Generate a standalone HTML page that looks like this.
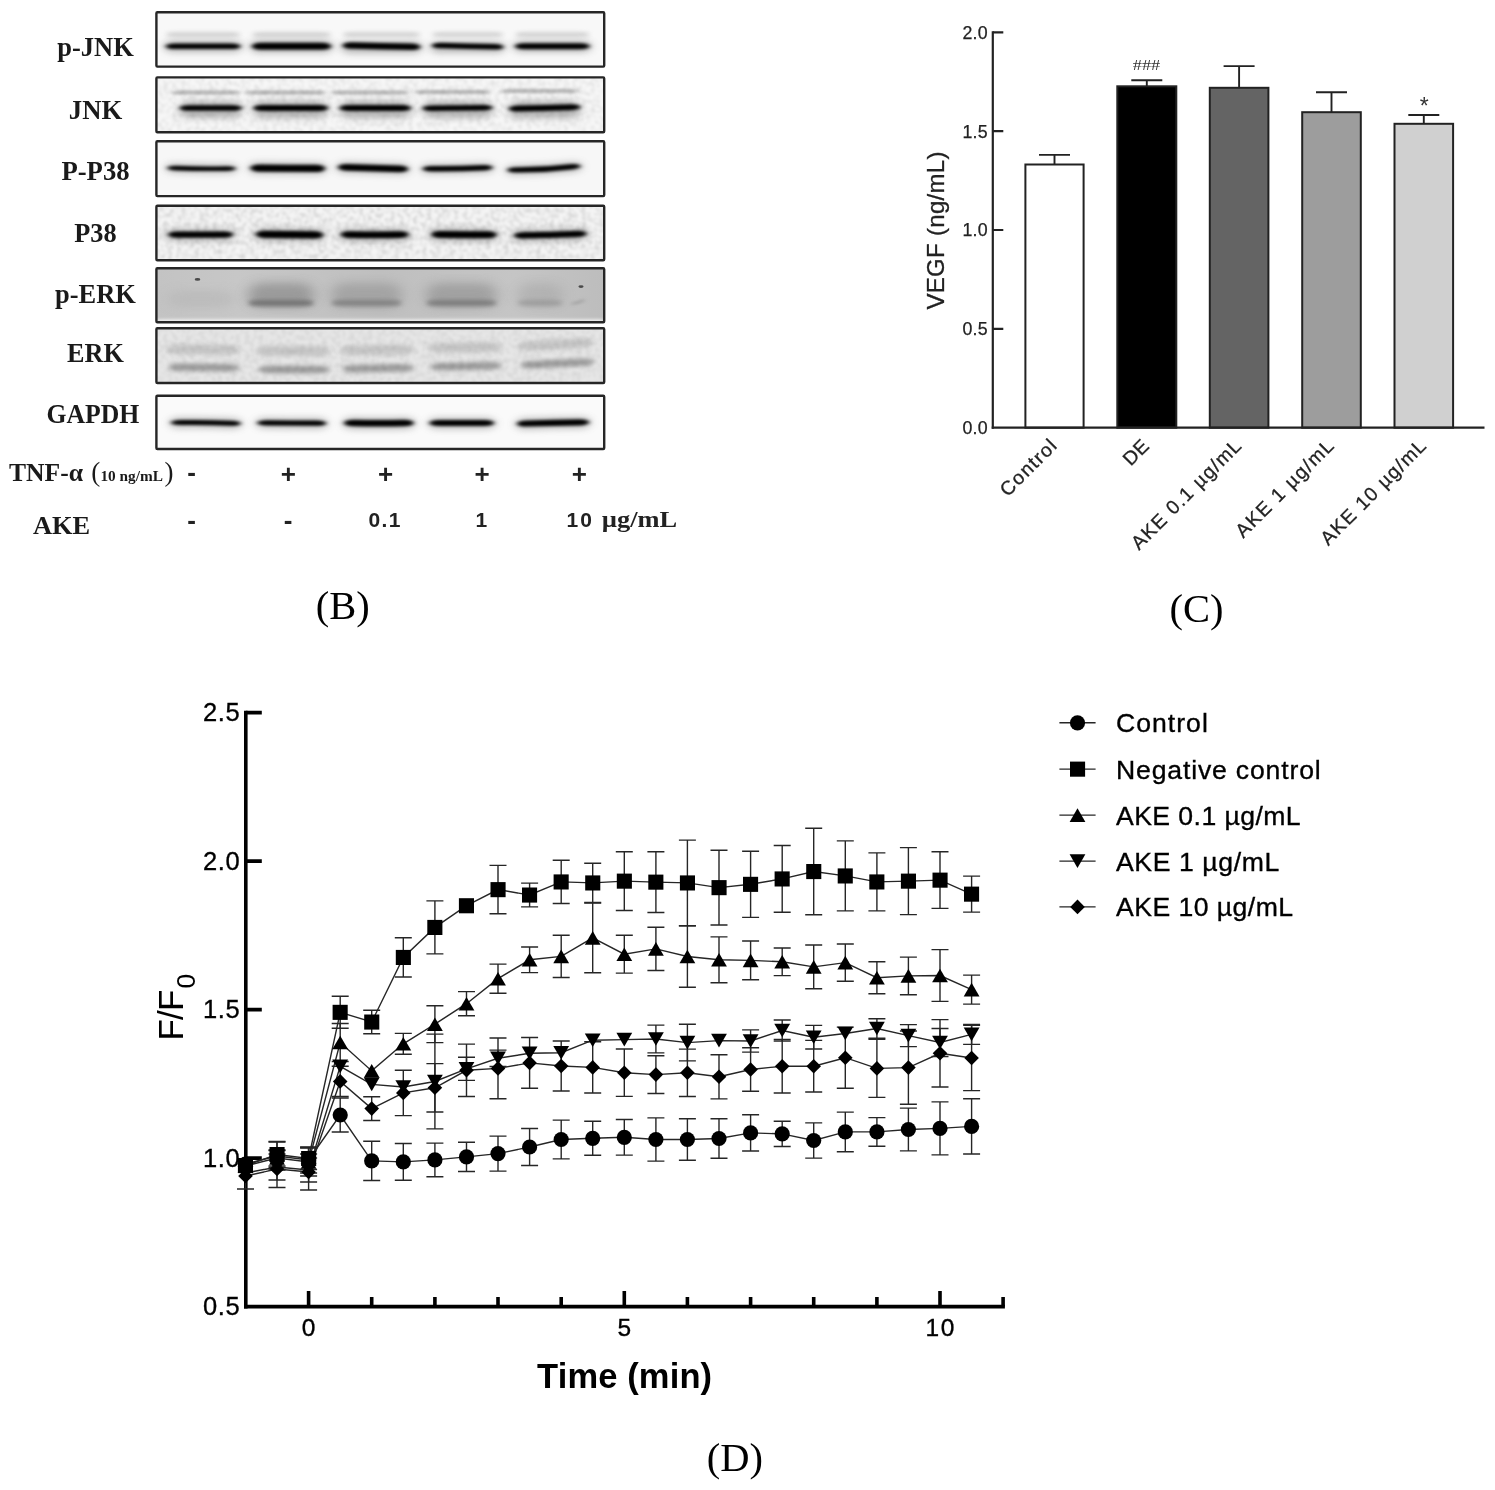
<!DOCTYPE html>
<html lang="en">
<head>
<meta charset="utf-8">
<title>Figure panels B, C, D</title>
<style>
html,body{margin:0;padding:0;background:#fff;}
body{width:1495px;height:1490px;overflow:hidden;}
svg{display:block;}
#fig{filter:blur(0.65px);}
</style>
</head>
<body>
<svg width="1495" height="1490" viewBox="0 0 1495 1490">
<rect width="1495" height="1490" fill="#fff"/>
<g id="fig">
<g id="panelD">
<path d="M245.8 710.8000000000001V1308.3999999999999" stroke="#000" stroke-width="3.6" fill="none"/>
<path d="M244.0 1306.6H1004.9" stroke="#000" stroke-width="3.6" fill="none"/>
<path d="M245.8 1158.1h16M245.8 1009.6h16M245.8 861.1h16M245.8 712.6h16" stroke="#000" stroke-width="3.6" fill="none"/>
<path d="M308.6 1306.6v-15.5M371.7 1306.6v-9.5M434.9 1306.6v-9.5M498.0 1306.6v-9.5M561.2 1306.6v-9.5M624.3 1306.6v-15.5M687.4 1306.6v-9.5M750.6 1306.6v-9.5M813.7 1306.6v-9.5M876.9 1306.6v-9.5M940.0 1306.6v-15.5M1003.1 1306.6v-9.5" stroke="#000" stroke-width="3.6" fill="none"/>
<text x="239.6" y="1315.3" text-anchor="end" font-family='"Liberation Sans", Arial, sans-serif' font-size="25.5" stroke="#000" stroke-width="0.35" textLength="36.5" lengthAdjust="spacing">0.5</text>
<text x="239.6" y="1166.8" text-anchor="end" font-family='"Liberation Sans", Arial, sans-serif' font-size="25.5" stroke="#000" stroke-width="0.35" textLength="36.5" lengthAdjust="spacing">1.0</text>
<text x="239.6" y="1018.3" text-anchor="end" font-family='"Liberation Sans", Arial, sans-serif' font-size="25.5" stroke="#000" stroke-width="0.35" textLength="36.5" lengthAdjust="spacing">1.5</text>
<text x="239.6" y="869.8" text-anchor="end" font-family='"Liberation Sans", Arial, sans-serif' font-size="25.5" stroke="#000" stroke-width="0.35" textLength="36.5" lengthAdjust="spacing">2.0</text>
<text x="239.6" y="721.3" text-anchor="end" font-family='"Liberation Sans", Arial, sans-serif' font-size="25.5" stroke="#000" stroke-width="0.35" textLength="36.5" lengthAdjust="spacing">2.5</text>
<text x="308.6" y="1336.2" text-anchor="middle" font-family='"Liberation Sans", Arial, sans-serif' font-size="24.5" stroke="#000" stroke-width="0.35" textLength="13.6" lengthAdjust="spacing">0</text>
<text x="624.3" y="1336.2" text-anchor="middle" font-family='"Liberation Sans", Arial, sans-serif' font-size="24.5" stroke="#000" stroke-width="0.35" textLength="13.6" lengthAdjust="spacing">5</text>
<text x="940.0" y="1336.2" text-anchor="middle" font-family='"Liberation Sans", Arial, sans-serif' font-size="24.5" stroke="#000" stroke-width="0.35" textLength="29" lengthAdjust="spacing">10</text>
<text x="624.6" y="1388.3" text-anchor="middle" font-family='"Liberation Sans", Arial, sans-serif' font-weight="bold" font-size="34.5" textLength="175" lengthAdjust="spacing">Time (min)</text>
<text transform="translate(183.4 1040.6) rotate(-90)" font-family='"Liberation Sans", Arial, sans-serif' font-size="35" textLength="51" lengthAdjust="spacing">F/F</text>
<text transform="translate(195.4 988.6) rotate(-90)" font-family='"Liberation Sans", Arial, sans-serif' font-size="26.5">0</text>
<g fill="#000">
<path d="M277.0 1142.0V1170.0M268.5 1142.0h17.0M268.5 1170.0h17.0M308.6 1147.0V1173.0M300.1 1147.0h17.0M300.1 1173.0h17.0M340.2 1098.0V1132.0M331.7 1098.0h17.0M331.7 1132.0h17.0M371.7 1141.3V1180.5M363.2 1141.3h17.0M363.2 1180.5h17.0M403.3 1143.5V1180.3M394.8 1143.5h17.0M394.8 1180.3h17.0M434.9 1143.1V1176.7M426.4 1143.1h17.0M426.4 1176.7h17.0M466.5 1142.3V1171.5M458.0 1142.3h17.0M458.0 1171.5h17.0M498.0 1136.1V1171.1M489.5 1136.1h17.0M489.5 1171.1h17.0M529.6 1128.5V1165.5M521.1 1128.5h17.0M521.1 1165.5h17.0M561.2 1120.1V1158.9M552.7 1120.1h17.0M552.7 1158.9h17.0M592.7 1121.3V1155.3M584.2 1121.3h17.0M584.2 1155.3h17.0M624.3 1119.5V1155.1M615.8 1119.5h17.0M615.8 1155.1h17.0M655.9 1117.9V1161.1M647.4 1117.9h17.0M647.4 1161.1h17.0M687.4 1118.7V1160.3M678.9 1118.7h17.0M678.9 1160.3h17.0M719.0 1118.7V1158.3M710.5 1118.7h17.0M710.5 1158.3h17.0M750.6 1114.8V1151.0M742.1 1114.8h17.0M742.1 1151.0h17.0M782.2 1121.3V1146.5M773.7 1121.3h17.0M773.7 1146.5h17.0M813.7 1122.9V1158.1M805.2 1122.9h17.0M805.2 1158.1h17.0M845.3 1112.1V1151.7M836.8 1112.1h17.0M836.8 1151.7h17.0M876.9 1117.6V1146.2M868.4 1117.6h17.0M868.4 1146.2h17.0M908.4 1108.1V1150.9M899.9 1108.1h17.0M899.9 1150.9h17.0M940.0 1101.9V1154.9M931.5 1101.9h17.0M931.5 1154.9h17.0M971.6 1098.8V1154.0M963.1 1098.8h17.0M963.1 1154.0h17.0" fill="none" stroke="#262626" stroke-width="1.4"/>
<polyline points="245.5,1164.0 277.0,1156.0 308.6,1160.0 340.2,1115.0 371.7,1160.9 403.3,1161.9 434.9,1159.9 466.5,1156.9 498.0,1153.6 529.6,1147.0 561.2,1139.5 592.7,1138.3 624.3,1137.3 655.9,1139.5 687.4,1139.5 719.0,1138.5 750.6,1132.9 782.2,1133.9 813.7,1140.5 845.3,1131.9 876.9,1131.9 908.4,1129.5 940.0,1128.4 971.6,1126.4" fill="none" stroke="#262626" stroke-width="1.4"/>
<path d="M277.0 1141.5V1167.5M268.5 1141.5h17.0M268.5 1167.5h17.0M308.6 1147.5V1169.5M300.1 1147.5h17.0M300.1 1169.5h17.0M340.2 996.3V1028.3M331.7 996.3h17.0M331.7 1028.3h17.0M371.7 1010.2V1033.8M363.2 1010.2h17.0M363.2 1033.8h17.0M403.3 937.8V977.0M394.8 937.8h17.0M394.8 977.0h17.0M434.9 900.9V953.9M426.4 900.9h17.0M426.4 953.9h17.0M498.0 865.4V913.8M489.5 865.4h17.0M489.5 913.8h17.0M529.6 883.1V906.9M521.1 883.1h17.0M521.1 906.9h17.0M561.2 860.3V903.5M552.7 860.3h17.0M552.7 903.5h17.0M592.7 863.3V902.5M584.2 863.3h17.0M584.2 902.5h17.0M624.3 851.7V910.5M615.8 851.7h17.0M615.8 910.5h17.0M655.9 851.7V912.5M647.4 851.7h17.0M647.4 912.5h17.0M687.4 840.1V925.7M678.9 840.1h17.0M678.9 925.7h17.0M719.0 850.2V925.0M710.5 850.2h17.0M710.5 925.0h17.0M750.6 851.2V917.4M742.1 851.2h17.0M742.1 917.4h17.0M782.2 845.5V912.3M773.7 845.5h17.0M773.7 912.3h17.0M813.7 828.2V914.8M805.2 828.2h17.0M805.2 914.8h17.0M845.3 840.9V910.9M836.8 840.9h17.0M836.8 910.9h17.0M876.9 852.9V910.9M868.4 852.9h17.0M868.4 910.9h17.0M908.4 847.6V914.6M899.9 847.6h17.0M899.9 914.6h17.0M940.0 851.8V908.4M931.5 851.8h17.0M931.5 908.4h17.0M971.6 876.1V912.1M963.1 876.1h17.0M963.1 912.1h17.0" fill="none" stroke="#262626" stroke-width="1.4"/>
<polyline points="245.5,1165.5 277.0,1154.5 308.6,1158.5 340.2,1012.3 371.7,1022.0 403.3,957.4 434.9,927.4 466.5,905.7 498.0,889.6 529.6,895.0 561.2,881.9 592.7,882.9 624.3,881.1 655.9,882.1 687.4,882.9 719.0,887.6 750.6,884.3 782.2,878.9 813.7,871.5 845.3,875.9 876.9,881.9 908.4,881.1 940.0,880.1 971.6,894.1" fill="none" stroke="#262626" stroke-width="1.4"/>
<path d="M277.0 1150.0V1166.0M268.5 1150.0h17.0M268.5 1166.0h17.0M308.6 1148.0V1176.0M300.1 1148.0h17.0M300.1 1176.0h17.0M340.2 1023.5V1061.5M331.7 1023.5h17.0M331.7 1061.5h17.0M403.3 1033.4V1054.2M394.8 1033.4h17.0M394.8 1054.2h17.0M434.9 1005.8V1042.6M426.4 1005.8h17.0M426.4 1042.6h17.0M466.5 991.6V1015.8M458.0 991.6h17.0M458.0 1015.8h17.0M498.0 964.1V993.3M489.5 964.1h17.0M489.5 993.3h17.0M529.6 947.0V972.6M521.1 947.0h17.0M521.1 972.6h17.0M561.2 935.3V977.5M552.7 935.3h17.0M552.7 977.5h17.0M592.7 903.1V972.7M584.2 903.1h17.0M584.2 972.7h17.0M624.3 935.3V973.1M615.8 935.3h17.0M615.8 973.1h17.0M655.9 927.3V970.5M647.4 927.3h17.0M647.4 970.5h17.0M687.4 925.8V987.2M678.9 925.8h17.0M678.9 987.2h17.0M719.0 936.9V982.7M710.5 936.9h17.0M710.5 982.7h17.0M750.6 941.0V979.8M742.1 941.0h17.0M742.1 979.8h17.0M782.2 948.0V975.6M773.7 948.0h17.0M773.7 975.6h17.0M813.7 945.0V988.8M805.2 945.0h17.0M805.2 988.8h17.0M845.3 944.0V981.2M836.8 944.0h17.0M836.8 981.2h17.0M876.9 961.7V993.7M868.4 961.7h17.0M868.4 993.7h17.0M908.4 957.1V994.7M899.9 957.1h17.0M899.9 994.7h17.0M940.0 949.6V1001.4M931.5 949.6h17.0M931.5 1001.4h17.0M971.6 975.1V1004.1M963.1 975.1h17.0M963.1 1004.1h17.0" fill="none" stroke="#262626" stroke-width="1.4"/>
<polyline points="245.5,1166.0 277.0,1158.0 308.6,1162.0 340.2,1042.5 371.7,1070.9 403.3,1043.8 434.9,1024.2 466.5,1003.7 498.0,978.7 529.6,959.8 561.2,956.4 592.7,937.9 624.3,954.2 655.9,948.9 687.4,956.5 719.0,959.8 750.6,960.4 782.2,961.8 813.7,966.9 845.3,962.6 876.9,977.7 908.4,975.9 940.0,975.5 971.6,989.6" fill="none" stroke="#262626" stroke-width="1.4"/>
<path d="M277.0 1154.0V1180.0M268.5 1154.0h17.0M268.5 1180.0h17.0M308.6 1158.0V1182.0M300.1 1158.0h17.0M300.1 1182.0h17.0M434.9 1034.1V1128.9M426.4 1034.1h17.0M426.4 1128.9h17.0M466.5 1057.2V1080.4M458.0 1057.2h17.0M458.0 1080.4h17.0M498.0 1050.1V1066.5M489.5 1050.1h17.0M489.5 1066.5h17.0M655.9 1025.1V1052.9M647.4 1025.1h17.0M647.4 1052.9h17.0M687.4 1024.3V1060.9M678.9 1024.3h17.0M678.9 1060.9h17.0M750.6 1029.9V1052.1M742.1 1029.9h17.0M742.1 1052.1h17.0M782.2 1020.0V1041.0M773.7 1020.0h17.0M773.7 1041.0h17.0M813.7 1025.4V1049.0M805.2 1025.4h17.0M805.2 1049.0h17.0M876.9 1018.8V1038.2M868.4 1018.8h17.0M868.4 1038.2h17.0M908.4 1024.6V1046.6M899.9 1024.6h17.0M899.9 1046.6h17.0M940.0 1028.5V1056.5M931.5 1028.5h17.0M931.5 1056.5h17.0M971.6 1024.4V1044.4M963.1 1024.4h17.0M963.1 1044.4h17.0" fill="none" stroke="#262626" stroke-width="1.4"/>
<polyline points="245.5,1173.0 277.0,1167.0 308.6,1170.0 340.2,1066.4 371.7,1084.4 403.3,1087.0 434.9,1081.5 466.5,1068.8 498.0,1058.3 529.6,1053.3 561.2,1052.7 592.7,1040.2 624.3,1039.6 655.9,1039.0 687.4,1042.6 719.0,1040.6 750.6,1041.0 782.2,1030.5 813.7,1037.2 845.3,1033.5 876.9,1028.5 908.4,1035.6 940.0,1042.5 971.6,1034.4" fill="none" stroke="#262626" stroke-width="1.4"/>
<path d="M245.5 1163.0V1189.0M237.0 1163.0h17.0M237.0 1189.0h17.0M277.0 1150.5V1187.5M268.5 1150.5h17.0M268.5 1187.5h17.0M308.6 1154.0V1190.0M300.1 1154.0h17.0M300.1 1190.0h17.0M340.2 1066.3V1096.5M331.7 1066.3h17.0M331.7 1096.5h17.0M371.7 1096.7V1120.5M363.2 1096.7h17.0M363.2 1120.5h17.0M403.3 1070.2V1115.6M394.8 1070.2h17.0M394.8 1115.6h17.0M434.9 1063.6V1112.0M426.4 1063.6h17.0M426.4 1112.0h17.0M466.5 1044.1V1096.5M458.0 1044.1h17.0M458.0 1096.5h17.0M498.0 1038.0V1098.8M489.5 1038.0h17.0M489.5 1098.8h17.0M529.6 1037.5V1088.3M521.1 1037.5h17.0M521.1 1088.3h17.0M561.2 1041.0V1091.0M552.7 1041.0h17.0M552.7 1091.0h17.0M592.7 1041.8V1093.0M584.2 1041.8h17.0M584.2 1093.0h17.0M624.3 1049.0V1096.4M615.8 1049.0h17.0M615.8 1096.4h17.0M655.9 1055.7V1093.5M647.4 1055.7h17.0M647.4 1093.5h17.0M687.4 1049.1V1096.5M678.9 1049.1h17.0M678.9 1096.5h17.0M719.0 1054.7V1098.9M710.5 1054.7h17.0M710.5 1098.9h17.0M750.6 1047.7V1091.3M742.1 1047.7h17.0M742.1 1091.3h17.0M782.2 1039.4V1093.0M773.7 1039.4h17.0M773.7 1093.0h17.0M813.7 1040.4V1092.0M805.2 1040.4h17.0M805.2 1092.0h17.0M845.3 1027.1V1088.3M836.8 1027.1h17.0M836.8 1088.3h17.0M876.9 1039.4V1097.4M868.4 1039.4h17.0M868.4 1097.4h17.0M908.4 1031.0V1104.2M899.9 1031.0h17.0M899.9 1104.2h17.0M940.0 1019.6V1087.0M931.5 1019.6h17.0M931.5 1087.0h17.0M971.6 1025.4V1090.6M963.1 1025.4h17.0M963.1 1090.6h17.0" fill="none" stroke="#262626" stroke-width="1.4"/>
<polyline points="245.5,1176.0 277.0,1169.0 308.6,1172.0 340.2,1081.4 371.7,1108.6 403.3,1092.9 434.9,1087.8 466.5,1070.3 498.0,1068.4 529.6,1062.9 561.2,1066.0 592.7,1067.4 624.3,1072.7 655.9,1074.6 687.4,1072.8 719.0,1076.8 750.6,1069.5 782.2,1066.2 813.7,1066.2 845.3,1057.7 876.9,1068.4 908.4,1067.6 940.0,1053.3 971.6,1058.0" fill="none" stroke="#262626" stroke-width="1.4"/>
<circle cx="245.5" cy="1164.0" r="7.6"/><circle cx="277.0" cy="1156.0" r="7.6"/><circle cx="308.6" cy="1160.0" r="7.6"/><circle cx="340.2" cy="1115.0" r="7.6"/><circle cx="371.7" cy="1160.9" r="7.6"/><circle cx="403.3" cy="1161.9" r="7.6"/><circle cx="434.9" cy="1159.9" r="7.6"/><circle cx="466.5" cy="1156.9" r="7.6"/><circle cx="498.0" cy="1153.6" r="7.6"/><circle cx="529.6" cy="1147.0" r="7.6"/><circle cx="561.2" cy="1139.5" r="7.6"/><circle cx="592.7" cy="1138.3" r="7.6"/><circle cx="624.3" cy="1137.3" r="7.6"/><circle cx="655.9" cy="1139.5" r="7.6"/><circle cx="687.4" cy="1139.5" r="7.6"/><circle cx="719.0" cy="1138.5" r="7.6"/><circle cx="750.6" cy="1132.9" r="7.6"/><circle cx="782.2" cy="1133.9" r="7.6"/><circle cx="813.7" cy="1140.5" r="7.6"/><circle cx="845.3" cy="1131.9" r="7.6"/><circle cx="876.9" cy="1131.9" r="7.6"/><circle cx="908.4" cy="1129.5" r="7.6"/><circle cx="940.0" cy="1128.4" r="7.6"/><circle cx="971.6" cy="1126.4" r="7.6"/>
<rect x="237.9" y="1158.0" width="15.1" height="15.1"/><rect x="269.5" y="1147.0" width="15.1" height="15.1"/><rect x="301.1" y="1151.0" width="15.1" height="15.1"/><rect x="332.6" y="1004.8" width="15.1" height="15.1"/><rect x="364.2" y="1014.5" width="15.1" height="15.1"/><rect x="395.8" y="949.9" width="15.1" height="15.1"/><rect x="427.3" y="919.9" width="15.1" height="15.1"/><rect x="458.9" y="898.2" width="15.1" height="15.1"/><rect x="490.5" y="882.1" width="15.1" height="15.1"/><rect x="522.0" y="887.5" width="15.1" height="15.1"/><rect x="553.6" y="874.4" width="15.1" height="15.1"/><rect x="585.2" y="875.4" width="15.1" height="15.1"/><rect x="616.8" y="873.6" width="15.1" height="15.1"/><rect x="648.3" y="874.6" width="15.1" height="15.1"/><rect x="679.9" y="875.4" width="15.1" height="15.1"/><rect x="711.5" y="880.1" width="15.1" height="15.1"/><rect x="743.0" y="876.8" width="15.1" height="15.1"/><rect x="774.6" y="871.4" width="15.1" height="15.1"/><rect x="806.2" y="864.0" width="15.1" height="15.1"/><rect x="837.7" y="868.4" width="15.1" height="15.1"/><rect x="869.3" y="874.4" width="15.1" height="15.1"/><rect x="900.9" y="873.6" width="15.1" height="15.1"/><rect x="932.5" y="872.6" width="15.1" height="15.1"/><rect x="964.0" y="886.6" width="15.1" height="15.1"/>
<path d="M237.6 1172.8L253.4 1172.8L245.5 1159.2Z"/><path d="M269.1 1164.8L284.9 1164.8L277.0 1151.2Z"/><path d="M300.7 1168.8L316.5 1168.8L308.6 1155.2Z"/><path d="M332.3 1049.3L348.1 1049.3L340.2 1035.7Z"/><path d="M363.8 1077.7L379.6 1077.7L371.7 1064.1Z"/><path d="M395.4 1050.6L411.2 1050.6L403.3 1037.0Z"/><path d="M427.0 1031.0L442.8 1031.0L434.9 1017.4Z"/><path d="M458.6 1010.5L474.4 1010.5L466.5 996.9Z"/><path d="M490.1 985.5L505.9 985.5L498.0 971.9Z"/><path d="M521.7 966.6L537.5 966.6L529.6 953.0Z"/><path d="M553.3 963.2L569.1 963.2L561.2 949.6Z"/><path d="M584.8 944.7L600.6 944.7L592.7 931.1Z"/><path d="M616.4 961.0L632.2 961.0L624.3 947.4Z"/><path d="M648.0 955.7L663.8 955.7L655.9 942.1Z"/><path d="M679.5 963.3L695.3 963.3L687.4 949.7Z"/><path d="M711.1 966.6L726.9 966.6L719.0 953.0Z"/><path d="M742.7 967.2L758.5 967.2L750.6 953.6Z"/><path d="M774.3 968.6L790.1 968.6L782.2 955.0Z"/><path d="M805.8 973.7L821.6 973.7L813.7 960.1Z"/><path d="M837.4 969.4L853.2 969.4L845.3 955.8Z"/><path d="M869.0 984.5L884.8 984.5L876.9 970.9Z"/><path d="M900.5 982.7L916.3 982.7L908.4 969.1Z"/><path d="M932.1 982.3L947.9 982.3L940.0 968.7Z"/><path d="M963.7 996.4L979.5 996.4L971.6 982.8Z"/>
<path d="M237.6 1166.2L253.4 1166.2L245.5 1179.8Z"/><path d="M269.1 1160.2L284.9 1160.2L277.0 1173.8Z"/><path d="M300.7 1163.2L316.5 1163.2L308.6 1176.8Z"/><path d="M332.3 1059.6L348.1 1059.6L340.2 1073.2Z"/><path d="M363.8 1077.6L379.6 1077.6L371.7 1091.2Z"/><path d="M395.4 1080.2L411.2 1080.2L403.3 1093.8Z"/><path d="M427.0 1074.7L442.8 1074.7L434.9 1088.3Z"/><path d="M458.6 1062.0L474.4 1062.0L466.5 1075.6Z"/><path d="M490.1 1051.5L505.9 1051.5L498.0 1065.1Z"/><path d="M521.7 1046.5L537.5 1046.5L529.6 1060.1Z"/><path d="M553.3 1045.9L569.1 1045.9L561.2 1059.5Z"/><path d="M584.8 1033.4L600.6 1033.4L592.7 1047.0Z"/><path d="M616.4 1032.8L632.2 1032.8L624.3 1046.4Z"/><path d="M648.0 1032.2L663.8 1032.2L655.9 1045.8Z"/><path d="M679.5 1035.8L695.3 1035.8L687.4 1049.4Z"/><path d="M711.1 1033.8L726.9 1033.8L719.0 1047.4Z"/><path d="M742.7 1034.2L758.5 1034.2L750.6 1047.8Z"/><path d="M774.3 1023.7L790.1 1023.7L782.2 1037.3Z"/><path d="M805.8 1030.4L821.6 1030.4L813.7 1044.0Z"/><path d="M837.4 1026.7L853.2 1026.7L845.3 1040.3Z"/><path d="M869.0 1021.7L884.8 1021.7L876.9 1035.3Z"/><path d="M900.5 1028.8L916.3 1028.8L908.4 1042.4Z"/><path d="M932.1 1035.7L947.9 1035.7L940.0 1049.3Z"/><path d="M963.7 1027.6L979.5 1027.6L971.6 1041.2Z"/>
<path d="M238.2 1176.0L245.5 1168.7L252.8 1176.0L245.5 1183.3Z"/><path d="M269.7 1169.0L277.0 1161.7L284.3 1169.0L277.0 1176.3Z"/><path d="M301.3 1172.0L308.6 1164.7L315.9 1172.0L308.6 1179.3Z"/><path d="M332.9 1081.4L340.2 1074.1L347.5 1081.4L340.2 1088.7Z"/><path d="M364.4 1108.6L371.7 1101.3L379.0 1108.6L371.7 1115.9Z"/><path d="M396.0 1092.9L403.3 1085.6L410.6 1092.9L403.3 1100.2Z"/><path d="M427.6 1087.8L434.9 1080.5L442.2 1087.8L434.9 1095.1Z"/><path d="M459.2 1070.3L466.5 1063.0L473.8 1070.3L466.5 1077.6Z"/><path d="M490.7 1068.4L498.0 1061.1L505.3 1068.4L498.0 1075.7Z"/><path d="M522.3 1062.9L529.6 1055.6L536.9 1062.9L529.6 1070.2Z"/><path d="M553.9 1066.0L561.2 1058.7L568.5 1066.0L561.2 1073.3Z"/><path d="M585.4 1067.4L592.7 1060.1L600.0 1067.4L592.7 1074.7Z"/><path d="M617.0 1072.7L624.3 1065.4L631.6 1072.7L624.3 1080.0Z"/><path d="M648.6 1074.6L655.9 1067.3L663.2 1074.6L655.9 1081.9Z"/><path d="M680.1 1072.8L687.4 1065.5L694.7 1072.8L687.4 1080.1Z"/><path d="M711.7 1076.8L719.0 1069.5L726.3 1076.8L719.0 1084.1Z"/><path d="M743.3 1069.5L750.6 1062.2L757.9 1069.5L750.6 1076.8Z"/><path d="M774.9 1066.2L782.2 1058.9L789.5 1066.2L782.2 1073.5Z"/><path d="M806.4 1066.2L813.7 1058.9L821.0 1066.2L813.7 1073.5Z"/><path d="M838.0 1057.7L845.3 1050.4L852.6 1057.7L845.3 1065.0Z"/><path d="M869.6 1068.4L876.9 1061.1L884.2 1068.4L876.9 1075.7Z"/><path d="M901.1 1067.6L908.4 1060.3L915.7 1067.6L908.4 1074.9Z"/><path d="M932.7 1053.3L940.0 1046.0L947.3 1053.3L940.0 1060.6Z"/><path d="M964.3 1058.0L971.6 1050.7L978.9 1058.0L971.6 1065.3Z"/>
</g>
<g fill="#000">
<path d="M1059.4 722.8H1095.6" stroke="#262626" stroke-width="1.4" fill="none"/>
<circle cx="1077.5" cy="722.8" r="7.6"/>
<text x="1116" y="732.3" font-family='"Liberation Sans", Arial, sans-serif' font-size="26.6" stroke="#000" stroke-width="0.35" textLength="91.8" lengthAdjust="spacing">Control</text>
<path d="M1059.4 769.1H1095.6" stroke="#262626" stroke-width="1.4" fill="none"/>
<rect x="1070.0" y="761.6" width="15.1" height="15.1"/>
<text x="1116" y="778.6" font-family='"Liberation Sans", Arial, sans-serif' font-size="26.6" stroke="#000" stroke-width="0.35" textLength="204.7" lengthAdjust="spacing">Negative control</text>
<path d="M1059.4 815.1H1095.6" stroke="#262626" stroke-width="1.4" fill="none"/>
<path d="M1069.6 821.9L1085.4 821.9L1077.5 808.3Z"/>
<text x="1116" y="824.6" font-family='"Liberation Sans", Arial, sans-serif' font-size="26.6" stroke="#000" stroke-width="0.35" textLength="184.6" lengthAdjust="spacing">AKE 0.1 µg/mL</text>
<path d="M1059.4 861.1H1095.6" stroke="#262626" stroke-width="1.4" fill="none"/>
<path d="M1069.6 854.3L1085.4 854.3L1077.5 867.9Z"/>
<text x="1116" y="870.6" font-family='"Liberation Sans", Arial, sans-serif' font-size="26.6" stroke="#000" stroke-width="0.35" textLength="163.2" lengthAdjust="spacing">AKE 1 µg/mL</text>
<path d="M1059.4 906.9H1095.6" stroke="#262626" stroke-width="1.4" fill="none"/>
<path d="M1070.2 906.9L1077.5 899.6L1084.8 906.9L1077.5 914.2Z"/>
<text x="1116" y="916.4" font-family='"Liberation Sans", Arial, sans-serif' font-size="26.6" stroke="#000" stroke-width="0.35" textLength="177.1" lengthAdjust="spacing">AKE 10 µg/mL</text>
</g>
<text x="734.8" y="1470.6" text-anchor="middle" font-family='"Liberation Serif", "Times New Roman", serif' font-size="40.5">(D)</text>
</g>
<g id="panelC">
<path d="M992.8 31.2V428.8" stroke="#222" stroke-width="2.2" fill="none"/>
<path d="M992.8 328.9h10.5M992.8 230.0h10.5M992.8 131.2h10.5M992.8 32.3h10.5" stroke="#222" stroke-width="2.2" fill="none"/>
<path d="M1054.5 164.5V154.9M1039.0 154.9h31" stroke="#222" stroke-width="1.9" fill="none"/>
<rect x="1025.4" y="164.5" width="58.2" height="263.2" fill="#fff" stroke="#222" stroke-width="2"/>
<path d="M1146.8 86.3V80.2M1131.3 80.2h31" stroke="#222" stroke-width="1.9" fill="none"/>
<rect x="1117.3" y="86.3" width="59.0" height="341.4" fill="#000" stroke="#222" stroke-width="2"/>
<path d="M1239.1 87.8V66.1M1223.6 66.1h31" stroke="#222" stroke-width="1.9" fill="none"/>
<rect x="1209.8" y="87.8" width="58.6" height="339.9" fill="#646464" stroke="#222" stroke-width="2"/>
<path d="M1331.5 112.2V92.3M1316.0 92.3h31" stroke="#222" stroke-width="1.9" fill="none"/>
<rect x="1302.2" y="112.2" width="58.6" height="315.5" fill="#9d9d9d" stroke="#222" stroke-width="2"/>
<path d="M1423.8 123.8V115.0M1408.3 115.0h31" stroke="#222" stroke-width="1.9" fill="none"/>
<rect x="1394.5" y="123.8" width="58.6" height="303.9" fill="#d0d0d0" stroke="#222" stroke-width="2"/>
<path d="M991.6999999999999 427.7H1484.5" stroke="#222" stroke-width="2.2" fill="none"/>
<text x="987.6" y="434.1" text-anchor="end" fill="#222" stroke="#222" stroke-width="0.25" font-family='"Liberation Sans", Arial, sans-serif' font-size="17.8" textLength="25" lengthAdjust="spacing">0.0</text>
<text x="987.6" y="335.2" text-anchor="end" fill="#222" stroke="#222" stroke-width="0.25" font-family='"Liberation Sans", Arial, sans-serif' font-size="17.8" textLength="25" lengthAdjust="spacing">0.5</text>
<text x="987.6" y="236.4" text-anchor="end" fill="#222" stroke="#222" stroke-width="0.25" font-family='"Liberation Sans", Arial, sans-serif' font-size="17.8" textLength="25" lengthAdjust="spacing">1.0</text>
<text x="987.6" y="137.6" text-anchor="end" fill="#222" stroke="#222" stroke-width="0.25" font-family='"Liberation Sans", Arial, sans-serif' font-size="17.8" textLength="25" lengthAdjust="spacing">1.5</text>
<text x="987.6" y="38.7" text-anchor="end" fill="#222" stroke="#222" stroke-width="0.25" font-family='"Liberation Sans", Arial, sans-serif' font-size="17.8" textLength="25" lengthAdjust="spacing">2.0</text>
<text transform="translate(1057.9 447.2) rotate(-45)" text-anchor="end" fill="#222" stroke="#222" stroke-width="0.3" font-family='"Liberation Sans", Arial, sans-serif' font-size="19.5" textLength="71" lengthAdjust="spacing">Control</text>
<text transform="translate(1150.2 447.2) rotate(-45)" text-anchor="end" fill="#222" stroke="#222" stroke-width="0.3" font-family='"Liberation Sans", Arial, sans-serif' font-size="19.5" textLength="27.5" lengthAdjust="spacing">DE</text>
<text transform="translate(1242.5 447.2) rotate(-45)" text-anchor="end" fill="#222" stroke="#222" stroke-width="0.3" font-family='"Liberation Sans", Arial, sans-serif' font-size="19.5" textLength="146.5" lengthAdjust="spacing">AKE 0.1 µg/mL</text>
<text transform="translate(1334.9 447.2) rotate(-45)" text-anchor="end" fill="#222" stroke="#222" stroke-width="0.3" font-family='"Liberation Sans", Arial, sans-serif' font-size="19.5" textLength="129.5" lengthAdjust="spacing">AKE 1 µg/mL</text>
<text transform="translate(1427.2 447.2) rotate(-45)" text-anchor="end" fill="#222" stroke="#222" stroke-width="0.3" font-family='"Liberation Sans", Arial, sans-serif' font-size="19.5" textLength="140" lengthAdjust="spacing">AKE 10 µg/mL</text>
<text transform="translate(944.4 230.5) rotate(-90)" text-anchor="middle" fill="#222" stroke="#222" stroke-width="0.3" font-family='"Liberation Sans", Arial, sans-serif' font-size="24" textLength="158" lengthAdjust="spacing">VEGF (ng/mL)</text>
<text x="1146.5" y="69.6" text-anchor="middle" fill="#333" font-family='"Liberation Serif", "Times New Roman", serif' font-size="15.5" textLength="27.5" lengthAdjust="spacingAndGlyphs">###</text>
<text x="1424.2" y="113.6" text-anchor="middle" fill="#333" font-family='"Liberation Sans", Arial, sans-serif' font-size="23">*</text>
<text x="1196.6" y="622.4" text-anchor="middle" font-family='"Liberation Serif", "Times New Roman", serif' font-size="40.5">(C)</text>
</g>
<g id="panelB">
<defs>
<filter id="b1" filterUnits="userSpaceOnUse" x="120" y="0" width="520" height="470"><feGaussianBlur stdDeviation="2.6 1.7"/></filter>
<filter id="b2" filterUnits="userSpaceOnUse" x="120" y="0" width="520" height="470"><feGaussianBlur stdDeviation="2.6 1.9"/></filter>
<filter id="b3" filterUnits="userSpaceOnUse" x="120" y="0" width="520" height="470"><feGaussianBlur stdDeviation="4 3"/></filter>
<filter id="b5" filterUnits="userSpaceOnUse" x="120" y="0" width="520" height="470"><feGaussianBlur stdDeviation="7 5"/></filter>
<filter id="nz" filterUnits="userSpaceOnUse" x="120" y="0" width="520" height="470"><feTurbulence type="fractalNoise" baseFrequency="0.22" numOctaves="2" seed="3"/><feColorMatrix type="matrix" values="0 0 0 0 0  0 0 0 0 0  0 0 0 0 0  1.1 0 0 0 -0.42"/><feGaussianBlur stdDeviation="1.1"/></filter>
<linearGradient id="g5" x1="0" x2="1"><stop offset="0" stop-color="#c3c3c3"/><stop offset="0.18" stop-color="#c7c7c7"/><stop offset="0.5" stop-color="#bfbfbf"/><stop offset="0.8" stop-color="#c5c5c5"/><stop offset="1" stop-color="#bdbdbd"/></linearGradient>
</defs>
<clipPath id="cp0"><rect x="156.4" y="12.2" width="447.8" height="54.4"/></clipPath>
<rect x="156.4" y="12.2" width="447.8" height="54.4" fill="#f8f8f8"/>
<g clip-path="url(#cp0)">
<path d="M165.4 34.4Q167.4 32.8 174.4 32.8Q203.1 32.8 231.8 32.8Q238.8 32.8 240.8 34.4Q238.8 36.0 231.8 36.0Q203.1 36.0 174.4 36.0Q167.4 36.0 165.4 34.4Z" fill="#8c8c8c" opacity="0.5" filter="url(#b2)"/>
<path d="M163.4 46.4Q165.4 40.3 172.4 40.3Q203.1 40.3 233.8 40.3Q240.8 40.3 242.8 46.4Q240.8 52.5 233.8 52.5Q203.1 52.5 172.4 52.5Q165.4 52.5 163.4 46.4Z" fill="#777" opacity="0.45" filter="url(#b3)"/>
<path d="M165.4 46.2Q167.4 43.4 174.4 43.4Q203.1 43.4 231.8 43.4Q238.8 43.4 240.8 46.2Q238.8 49.1 231.8 49.1Q203.1 49.1 174.4 49.1Q167.4 49.1 165.4 46.2Z" fill="#000" opacity="1" filter="url(#b1)"/>
<path d="M251.5 34.4Q253.5 32.8 260.5 32.8Q291.5 32.8 322.5 32.8Q329.5 32.8 331.5 34.4Q329.5 36.0 322.5 36.0Q291.5 36.0 260.5 36.0Q253.5 36.0 251.5 34.4Z" fill="#8c8c8c" opacity="0.5" filter="url(#b2)"/>
<path d="M249.5 46.4Q251.5 39.6 258.5 39.6Q291.5 39.6 324.5 39.6Q331.5 39.6 333.5 46.4Q331.5 53.2 324.5 53.2Q291.5 53.2 258.5 53.2Q251.5 53.2 249.5 46.4Z" fill="#777" opacity="0.45" filter="url(#b3)"/>
<path d="M251.5 46.2Q253.5 42.7 260.5 42.7Q291.5 42.7 322.5 42.7Q329.5 42.7 331.5 46.2Q329.5 49.8 322.5 49.8Q291.5 49.8 260.5 49.8Q253.5 49.8 251.5 46.2Z" fill="#000" opacity="1" filter="url(#b1)"/>
<path d="M342.3 34.4Q344.3 32.8 351.3 32.8Q381.6 32.8 411.8 32.8Q418.8 32.8 420.8 34.4Q418.8 36.0 411.8 36.0Q381.6 36.0 351.3 36.0Q344.3 36.0 342.3 34.4Z" fill="#8c8c8c" opacity="0.5" filter="url(#b2)"/>
<path d="M340.3 47.2Q342.3 40.7 349.3 40.7Q381.6 40.7 413.8 40.7Q420.8 40.7 422.8 47.2Q420.8 53.7 413.8 53.7Q381.6 53.7 349.3 53.7Q342.3 53.7 340.3 47.2Z" fill="#777" opacity="0.45" filter="url(#b3)"/>
<path d="M342.3 45.4Q344.3 42.2 351.3 42.3Q381.6 43.0 411.8 43.6Q418.8 43.8 420.8 47.0Q418.8 50.2 411.8 50.1Q381.6 49.5 351.3 48.8Q344.3 48.7 342.3 45.4Z" fill="#000" opacity="1" filter="url(#b1)"/>
<path d="M431.5 34.4Q433.5 32.8 440.5 32.8Q467.6 32.8 494.8 32.8Q501.8 32.8 503.8 34.4Q501.8 36.0 494.8 36.0Q467.6 36.0 440.5 36.0Q433.5 36.0 431.5 34.4Z" fill="#8c8c8c" opacity="0.5" filter="url(#b2)"/>
<path d="M429.5 47.2Q431.5 41.2 438.5 41.2Q467.6 41.2 496.8 41.2Q503.8 41.2 505.8 47.2Q503.8 53.2 496.8 53.2Q467.6 53.2 438.5 53.2Q431.5 53.2 429.5 47.2Z" fill="#777" opacity="0.45" filter="url(#b3)"/>
<path d="M431.5 45.4Q433.5 42.7 440.5 42.8Q467.6 43.5 494.8 44.1Q501.8 44.2 503.8 47.0Q501.8 49.8 494.8 49.6Q467.6 49.0 440.5 48.3Q433.5 48.2 431.5 45.4Z" fill="#000" opacity="1" filter="url(#b1)"/>
<path d="M514.6 34.4Q516.6 32.8 523.6 32.8Q552.3 32.8 581.0 32.8Q588.0 32.8 590.0 34.4Q588.0 36.0 581.0 36.0Q552.3 36.0 523.6 36.0Q516.6 36.0 514.6 34.4Z" fill="#8c8c8c" opacity="0.5" filter="url(#b2)"/>
<path d="M512.6 46.4Q514.6 40.2 521.6 40.2Q552.3 40.2 583.0 40.2Q590.0 40.2 592.0 46.4Q590.0 52.6 583.0 52.6Q552.3 52.6 521.6 52.6Q514.6 52.6 512.6 46.4Z" fill="#777" opacity="0.45" filter="url(#b3)"/>
<path d="M514.6 46.2Q516.6 43.2 523.6 43.2Q552.3 43.2 581.0 43.2Q588.0 43.2 590.0 46.2Q588.0 49.2 581.0 49.2Q552.3 49.2 523.6 49.2Q516.6 49.2 514.6 46.2Z" fill="#000" opacity="1" filter="url(#b1)"/>
</g>
<rect x="156.4" y="12.2" width="447.8" height="54.4" rx="1" fill="none" stroke="#262626" stroke-width="2.4"/>
<clipPath id="cp1"><rect x="156.4" y="77.4" width="447.8" height="54.9"/></clipPath>
<rect x="156.4" y="77.4" width="447.8" height="54.9" fill="#f6f6f6"/>
<g clip-path="url(#cp1)">
<path d="M171.2 92.6Q173.2 90.6 180.2 90.6Q205.8 90.6 231.3 90.6Q238.3 90.6 240.3 92.6Q238.3 94.6 231.3 94.6Q205.8 94.6 180.2 94.6Q173.2 94.6 171.2 92.6Z" fill="#8a8a8a" opacity="0.6" filter="url(#b1)"/>
<path d="M179.2 109.5Q181.2 101.0 188.2 101.0Q210.8 101.0 233.3 101.0Q240.3 101.0 242.3 109.5Q240.3 118.0 233.3 118.0Q210.8 118.0 188.2 118.0Q181.2 118.0 179.2 109.5Z" fill="#777" opacity="0.5" filter="url(#b3)"/>
<path d="M179.2 107.9Q181.2 105.2 188.2 105.2Q210.8 105.2 233.3 105.2Q240.3 105.2 242.3 107.9Q240.3 110.7 233.3 110.7Q210.8 110.7 188.2 110.7Q181.2 110.7 179.2 107.9Z" fill="#000" opacity="1" filter="url(#b1)"/>
<path d="M245.0 92.6Q247.0 90.6 254.0 90.6Q285.8 90.6 317.5 90.6Q324.5 90.6 326.5 92.6Q324.5 94.6 317.5 94.6Q285.8 94.6 254.0 94.6Q247.0 94.6 245.0 92.6Z" fill="#8a8a8a" opacity="0.6" filter="url(#b1)"/>
<path d="M253.0 109.5Q255.0 100.8 262.0 100.8Q290.8 100.8 319.5 100.8Q326.5 100.8 328.5 109.5Q326.5 118.2 319.5 118.2Q290.8 118.2 262.0 118.2Q255.0 118.2 253.0 109.5Z" fill="#777" opacity="0.5" filter="url(#b3)"/>
<path d="M253.0 107.9Q255.0 105.0 262.0 105.0Q290.8 105.0 319.5 105.0Q326.5 105.0 328.5 107.9Q326.5 110.9 319.5 110.9Q290.8 110.9 262.0 110.9Q255.0 110.9 253.0 107.9Z" fill="#000" opacity="1" filter="url(#b1)"/>
<path d="M331.2 92.6Q333.2 90.6 340.2 90.6Q370.4 90.6 400.5 90.6Q407.5 90.6 409.5 92.6Q407.5 94.6 400.5 94.6Q370.4 94.6 340.2 94.6Q333.2 94.6 331.2 92.6Z" fill="#8a8a8a" opacity="0.6" filter="url(#b1)"/>
<path d="M339.2 109.5Q341.2 100.8 348.2 100.8Q375.4 100.8 402.5 100.8Q409.5 100.8 411.5 109.5Q409.5 118.2 402.5 118.2Q375.4 118.2 348.2 118.2Q341.2 118.2 339.2 109.5Z" fill="#777" opacity="0.5" filter="url(#b3)"/>
<path d="M339.2 107.9Q341.2 105.0 348.2 105.0Q375.4 105.0 402.5 105.0Q409.5 105.0 411.5 107.9Q409.5 110.9 402.5 110.9Q375.4 110.9 348.2 110.9Q341.2 110.9 339.2 107.9Z" fill="#000" opacity="1" filter="url(#b1)"/>
<path d="M414.3 92.0Q416.3 90.0 423.3 90.0Q452.6 90.0 482.0 90.0Q489.0 90.0 491.0 92.0Q489.0 94.0 482.0 94.0Q452.6 94.0 423.3 94.0Q416.3 94.0 414.3 92.0Z" fill="#8a8a8a" opacity="0.6" filter="url(#b1)"/>
<path d="M422.3 109.5Q424.3 101.0 431.3 101.0Q457.6 101.0 484.0 101.0Q491.0 101.0 493.0 109.5Q491.0 118.0 484.0 118.0Q457.6 118.0 431.3 118.0Q424.3 118.0 422.3 109.5Z" fill="#777" opacity="0.5" filter="url(#b3)"/>
<path d="M422.3 108.2Q424.3 105.5 431.3 105.4Q457.6 105.2 484.0 104.9Q491.0 104.9 493.0 107.6Q491.0 110.4 484.0 110.4Q457.6 110.7 431.3 110.9Q424.3 111.0 422.3 108.2Z" fill="#000" opacity="1" filter="url(#b1)"/>
<path d="M500.5 91.0Q502.5 89.0 509.5 89.0Q539.6 89.0 569.8 89.0Q576.8 89.0 578.8 91.0Q576.8 93.0 569.8 93.0Q539.6 93.0 509.5 93.0Q502.5 93.0 500.5 91.0Z" fill="#8a8a8a" opacity="0.6" filter="url(#b1)"/>
<path d="M508.5 109.5Q510.5 100.8 517.5 100.8Q544.6 100.8 571.8 100.8Q578.8 100.8 580.8 109.5Q578.8 118.2 571.8 118.2Q544.6 118.2 517.5 118.2Q510.5 118.2 508.5 109.5Z" fill="#777" opacity="0.5" filter="url(#b3)"/>
<path d="M508.5 108.7Q510.5 105.8 517.5 105.6Q544.6 105.0 571.8 104.3Q578.8 104.2 580.8 107.1Q578.8 110.1 571.8 110.2Q544.6 110.9 517.5 111.5Q510.5 111.7 508.5 108.7Z" fill="#000" opacity="1" filter="url(#b1)"/>
<rect x="156.4" y="77.4" width="447.8" height="54.9" filter="url(#nz)" opacity="0.16"/>
</g>
<rect x="156.4" y="77.4" width="447.8" height="54.9" rx="1" fill="none" stroke="#262626" stroke-width="2.4"/>
<clipPath id="cp2"><rect x="156.4" y="141.2" width="447.8" height="54.9"/></clipPath>
<rect x="156.4" y="141.2" width="447.8" height="54.9" fill="#f7f7f7"/>
<g clip-path="url(#cp2)">
<path d="M165.0 168.1Q167.0 163.0 174.0 163.1Q201.5 164.3 229.0 163.6Q236.0 163.6 238.0 168.7Q236.0 173.8 229.0 173.8Q201.5 174.5 174.0 173.3Q167.0 173.2 165.0 168.1Z" fill="#777" opacity="0.4" filter="url(#b3)"/>
<path d="M167.0 167.9Q169.0 165.5 176.0 165.7Q201.5 166.8 227.0 166.2Q234.0 166.2 236.0 168.5Q234.0 170.8 227.0 170.9Q201.5 171.5 176.0 170.4Q169.0 170.2 167.0 167.9Z" fill="#000" opacity="1" filter="url(#b1)"/>
<path d="M248.0 168.2Q250.0 161.8 257.0 161.8Q287.7 162.0 318.4 162.2Q325.4 162.2 327.4 168.6Q325.4 175.0 318.4 175.0Q287.7 174.8 257.0 174.6Q250.0 174.6 248.0 168.2Z" fill="#777" opacity="0.4" filter="url(#b3)"/>
<path d="M250.0 168.0Q252.0 164.3 259.0 164.4Q287.7 164.5 316.4 164.7Q323.4 164.7 325.4 168.4Q323.4 172.0 316.4 172.0Q287.7 171.8 259.0 171.7Q252.0 171.7 250.0 168.0Z" fill="#000" opacity="1" filter="url(#b1)"/>
<path d="M335.7 167.5Q337.7 161.4 344.7 161.5Q373.1 162.3 401.5 163.1Q408.5 163.2 410.5 169.3Q408.5 175.4 401.5 175.3Q373.1 174.5 344.7 173.7Q337.7 173.6 335.7 167.5Z" fill="#777" opacity="0.4" filter="url(#b3)"/>
<path d="M337.7 167.3Q339.7 163.9 346.7 164.1Q373.1 164.8 399.5 165.6Q406.5 165.8 408.5 169.1Q406.5 172.4 399.5 172.3Q373.1 171.5 346.7 170.8Q339.7 170.6 337.7 167.3Z" fill="#000" opacity="1" filter="url(#b1)"/>
<path d="M420.3 169.0Q422.3 163.5 429.3 163.5Q457.6 163.7 486.0 162.5Q493.0 162.3 495.0 167.8Q493.0 173.3 486.0 173.5Q457.6 174.7 429.3 174.5Q422.3 174.5 420.3 169.0Z" fill="#777" opacity="0.4" filter="url(#b3)"/>
<path d="M422.3 168.8Q424.3 166.0 431.3 166.0Q457.6 166.2 484.0 165.0Q491.0 164.8 493.0 167.6Q491.0 170.3 484.0 170.5Q457.6 171.8 431.3 171.5Q424.3 171.5 422.3 168.8Z" fill="#000" opacity="1" filter="url(#b1)"/>
<path d="M505.0 170.3Q507.0 164.9 514.0 164.8Q543.9 164.9 573.8 161.6Q580.8 161.1 582.8 166.5Q580.8 171.9 573.8 172.4Q543.9 175.7 514.0 175.6Q507.0 175.7 505.0 170.3Z" fill="#777" opacity="0.4" filter="url(#b3)"/>
<path d="M507.0 170.1Q509.0 167.4 516.0 167.3Q543.9 167.5 571.8 164.1Q578.8 163.6 580.8 166.3Q578.8 168.9 571.8 169.4Q543.9 172.8 516.0 172.6Q509.0 172.8 507.0 170.1Z" fill="#000" opacity="1" filter="url(#b1)"/>
</g>
<rect x="156.4" y="141.2" width="447.8" height="54.9" rx="1" fill="none" stroke="#262626" stroke-width="2.4"/>
<clipPath id="cp3"><rect x="156.4" y="205.8" width="447.8" height="54.4"/></clipPath>
<rect x="156.4" y="205.8" width="447.8" height="54.4" fill="#f4f4f4"/>
<g clip-path="url(#cp3)">
<path d="M165.6 235.0Q167.6 228.7 174.6 228.7Q200.6 228.7 226.5 228.7Q233.5 228.7 235.5 235.0Q233.5 241.3 226.5 241.3Q200.6 241.3 174.6 241.3Q167.6 241.3 165.6 235.0Z" fill="#777" opacity="0.45" filter="url(#b3)"/>
<path d="M167.6 234.6Q169.6 231.5 176.6 231.5Q200.6 231.5 224.5 231.5Q231.5 231.5 233.5 234.6Q231.5 237.7 224.5 237.7Q200.6 237.7 176.6 237.7Q169.6 237.7 167.6 234.6Z" fill="#000" opacity="1" filter="url(#b1)"/>
<path d="M253.5 234.7Q255.5 227.9 262.5 227.9Q289.6 228.2 316.6 228.5Q323.6 228.5 325.6 235.3Q323.6 242.1 316.6 242.1Q289.6 241.8 262.5 241.5Q255.5 241.5 253.5 234.7Z" fill="#777" opacity="0.45" filter="url(#b3)"/>
<path d="M255.5 234.3Q257.5 230.7 264.5 230.8Q289.6 231.0 314.6 231.3Q321.6 231.3 323.6 234.9Q321.6 238.5 314.6 238.4Q289.6 238.2 264.5 237.9Q257.5 237.8 255.5 234.3Z" fill="#000" opacity="1" filter="url(#b1)"/>
<path d="M338.5 235.0Q340.5 228.4 347.5 228.5Q374.7 229.0 401.9 228.5Q408.9 228.4 410.9 235.0Q408.9 241.6 401.9 241.7Q374.7 242.2 347.5 241.7Q340.5 241.6 338.5 235.0Z" fill="#777" opacity="0.45" filter="url(#b3)"/>
<path d="M340.5 234.6Q342.5 231.2 349.5 231.3Q374.7 231.9 399.9 231.3Q406.9 231.2 408.9 234.6Q406.9 237.9 399.9 238.0Q374.7 238.6 349.5 238.0Q342.5 237.9 340.5 234.6Z" fill="#000" opacity="1" filter="url(#b1)"/>
<path d="M429.0 234.8Q431.0 228.1 438.0 228.1Q464.0 228.3 490.0 228.5Q497.0 228.5 499.0 235.2Q497.0 241.9 490.0 241.9Q464.0 241.7 438.0 241.5Q431.0 241.5 429.0 234.8Z" fill="#777" opacity="0.45" filter="url(#b3)"/>
<path d="M431.0 234.4Q433.0 231.0 440.0 231.0Q464.0 231.2 488.0 231.3Q495.0 231.3 497.0 234.8Q495.0 238.2 488.0 238.2Q464.0 238.0 440.0 237.9Q433.0 237.8 431.0 234.4Z" fill="#000" opacity="1" filter="url(#b1)"/>
<path d="M511.8 235.9Q513.8 229.5 520.8 229.4Q550.4 229.2 580.0 227.9Q587.0 227.7 589.0 234.1Q587.0 240.5 580.0 240.7Q550.4 242.0 520.8 242.2Q513.8 242.3 511.8 235.9Z" fill="#777" opacity="0.45" filter="url(#b3)"/>
<path d="M513.8 235.5Q515.8 232.3 522.8 232.3Q550.4 232.1 578.0 230.7Q585.0 230.5 587.0 233.7Q585.0 236.8 578.0 237.0Q550.4 238.4 522.8 238.6Q515.8 238.7 513.8 235.5Z" fill="#000" opacity="1" filter="url(#b1)"/>
<rect x="156.4" y="205.8" width="447.8" height="54.4" filter="url(#nz)" opacity="0.26"/>
</g>
<rect x="156.4" y="205.8" width="447.8" height="54.4" rx="1" fill="none" stroke="#262626" stroke-width="2.4"/>
<clipPath id="cp4"><rect x="156.4" y="268.2" width="447.8" height="54.0"/></clipPath>
<rect x="156.4" y="268.2" width="447.8" height="54.0" fill="url(#g5)"/>
<g clip-path="url(#cp4)">
<path d="M248.0 295.0Q250.0 283.0 262.0 283.0Q281.0 283.0 300.0 283.0Q312.0 283.0 314.0 295.0Q312.0 307.0 300.0 307.0Q281.0 307.0 262.0 307.0Q250.0 307.0 248.0 295.0Z" fill="#909090" opacity="0.8" filter="url(#b5)"/>
<path d="M248.0 303.0Q250.0 300.2 257.0 300.2Q281.0 300.2 305.0 300.2Q312.0 300.2 314.0 303.0Q312.0 305.8 305.0 305.8Q281.0 305.8 257.0 305.8Q250.0 305.8 248.0 303.0Z" fill="#6c6c6c" opacity="0.95" filter="url(#b2)"/>
<path d="M331.0 295.0Q333.0 283.0 345.0 283.0Q366.5 283.0 388.0 283.0Q400.0 283.0 402.0 295.0Q400.0 307.0 388.0 307.0Q366.5 307.0 345.0 307.0Q333.0 307.0 331.0 295.0Z" fill="#909090" opacity="0.576" filter="url(#b5)"/>
<path d="M331.0 303.0Q333.0 300.2 340.0 300.2Q366.5 300.2 393.0 300.2Q400.0 300.2 402.0 303.0Q400.0 305.8 393.0 305.8Q366.5 305.8 340.0 305.8Q333.0 305.8 331.0 303.0Z" fill="#6c6c6c" opacity="0.6839999999999999" filter="url(#b2)"/>
<path d="M426.0 295.0Q428.0 283.0 440.0 283.0Q461.5 283.0 483.0 283.0Q495.0 283.0 497.0 295.0Q495.0 307.0 483.0 307.0Q461.5 307.0 440.0 307.0Q428.0 307.0 426.0 295.0Z" fill="#909090" opacity="0.656" filter="url(#b5)"/>
<path d="M426.0 303.0Q428.0 300.2 435.0 300.2Q461.5 300.2 488.0 300.2Q495.0 300.2 497.0 303.0Q495.0 305.8 488.0 305.8Q461.5 305.8 435.0 305.8Q428.0 305.8 426.0 303.0Z" fill="#6c6c6c" opacity="0.7789999999999999" filter="url(#b2)"/>
<path d="M517.0 295.0Q519.0 283.0 531.0 283.0Q540.0 283.0 549.0 283.0Q561.0 283.0 563.0 295.0Q561.0 307.0 549.0 307.0Q540.0 307.0 531.0 307.0Q519.0 307.0 517.0 295.0Z" fill="#909090" opacity="0.30400000000000005" filter="url(#b5)"/>
<path d="M517.0 303.0Q519.0 300.2 526.0 300.2Q540.0 300.2 554.0 300.2Q561.0 300.2 563.0 303.0Q561.0 305.8 554.0 305.8Q540.0 305.8 526.0 305.8Q519.0 305.8 517.0 303.0Z" fill="#6c6c6c" opacity="0.361" filter="url(#b2)"/>
<path d="M168.0 299.0Q170.0 291.0 182.0 291.0Q201.0 291.0 220.0 291.0Q232.0 291.0 234.0 299.0Q232.0 307.0 220.0 307.0Q201.0 307.0 182.0 307.0Q170.0 307.0 168.0 299.0Z" fill="#b2b2b2" opacity="0.5" filter="url(#b5)"/>
<rect x="156.4" y="319.4" width="447.8" height="4" fill="#f2f2f2" filter="url(#b1)"/>
<ellipse cx="197.5" cy="279.4" rx="2.8" ry="1.3" fill="#4a4a4a"/>
<ellipse cx="581" cy="286.6" rx="2.6" ry="1.3" fill="#4a4a4a"/>
<path d="M572 304q6 -1 12 -4" stroke="#8f8f8f" stroke-width="1.6" fill="none" filter="url(#b1)"/>
</g>
<rect x="156.4" y="268.2" width="447.8" height="54.0" rx="1" fill="none" stroke="#262626" stroke-width="2.4"/>
<clipPath id="cp5"><rect x="156.4" y="328.2" width="447.8" height="54.8"/></clipPath>
<rect x="156.4" y="328.2" width="447.8" height="54.8" fill="#e6e6e6"/>
<g clip-path="url(#cp5)">
<path d="M166.0 349.2Q168.0 344.2 178.0 344.2Q203.0 344.5 228.0 344.8Q238.0 344.8 240.0 349.8Q238.0 354.8 228.0 354.8Q203.0 354.5 178.0 354.2Q168.0 354.2 166.0 349.2Z" fill="#c0c0c0" opacity="0.8" filter="url(#b2)"/>
<path d="M168.0 367.2Q170.0 363.4 180.0 363.5Q204.0 363.8 228.0 364.0Q238.0 364.1 240.0 367.8Q238.0 371.6 228.0 371.5Q204.0 371.2 180.0 371.0Q170.0 370.9 168.0 367.2Z" fill="#9c9c9c" opacity="1" filter="url(#b2)"/>
<path d="M256.0 351.0Q258.0 346.0 268.0 346.0Q293.0 346.0 318.0 346.0Q328.0 346.0 330.0 351.0Q328.0 356.0 318.0 356.0Q293.0 356.0 268.0 356.0Q258.0 356.0 256.0 351.0Z" fill="#c0c0c0" opacity="0.8" filter="url(#b2)"/>
<path d="M258.0 369.5Q260.0 365.8 270.0 365.8Q294.0 365.8 318.0 365.8Q328.0 365.8 330.0 369.5Q328.0 373.2 318.0 373.2Q294.0 373.2 270.0 373.2Q260.0 373.2 258.0 369.5Z" fill="#9c9c9c" opacity="1" filter="url(#b2)"/>
<path d="M340.0 350.4Q342.0 345.4 352.0 345.3Q377.0 345.0 402.0 344.7Q412.0 344.6 414.0 349.6Q412.0 354.6 402.0 354.7Q377.0 355.0 352.0 355.3Q342.0 355.4 340.0 350.4Z" fill="#c0c0c0" opacity="0.8" filter="url(#b2)"/>
<path d="M342.0 368.7Q344.0 364.9 354.0 364.9Q378.0 364.6 402.0 364.2Q412.0 364.2 414.0 367.9Q412.0 371.7 402.0 371.7Q378.0 372.1 354.0 372.4Q344.0 372.4 342.0 368.7Z" fill="#9c9c9c" opacity="1" filter="url(#b2)"/>
<path d="M428.0 348.1Q430.0 343.1 440.0 343.0Q465.0 342.5 490.0 342.0Q500.0 341.9 502.0 346.9Q500.0 351.9 490.0 352.0Q465.0 352.5 440.0 353.0Q430.0 353.1 428.0 348.1Z" fill="#c0c0c0" opacity="0.8" filter="url(#b2)"/>
<path d="M430.0 366.9Q432.0 363.2 442.0 363.1Q466.0 362.6 490.0 362.0Q500.0 361.9 502.0 365.7Q500.0 369.4 490.0 369.5Q466.0 370.1 442.0 370.6Q432.0 370.7 430.0 366.9Z" fill="#9c9c9c" opacity="1" filter="url(#b2)"/>
<path d="M518.0 346.1Q520.0 341.1 530.0 340.9Q556.0 339.5 582.0 338.1Q592.0 337.9 594.0 342.9Q592.0 347.9 582.0 348.1Q556.0 349.5 530.0 350.9Q520.0 351.1 518.0 346.1Z" fill="#c0c0c0" opacity="0.8" filter="url(#b2)"/>
<path d="M520.0 365.1Q522.0 361.4 532.0 361.1Q557.0 359.8 582.0 358.4Q592.0 358.1 594.0 361.9Q592.0 365.6 582.0 365.9Q557.0 367.2 532.0 368.6Q522.0 368.9 520.0 365.1Z" fill="#9c9c9c" opacity="1" filter="url(#b2)"/>
<rect x="156.4" y="328.2" width="447.8" height="54.8" filter="url(#nz)" opacity="0.14"/>
</g>
<rect x="156.4" y="328.2" width="447.8" height="54.8" rx="1" fill="none" stroke="#262626" stroke-width="2.4"/>
<clipPath id="cp6"><rect x="156.4" y="395.8" width="447.8" height="53.2"/></clipPath>
<rect x="156.4" y="395.8" width="447.8" height="53.2" fill="#fafafa"/>
<g clip-path="url(#cp6)">
<path d="M168.6 422.9Q170.6 417.1 178.6 417.1Q205.8 416.7 233.0 417.8Q241.0 417.9 243.0 423.7Q241.0 429.5 233.0 429.4Q205.8 428.3 178.6 428.7Q170.6 428.7 168.6 422.9Z" fill="#777" opacity="0.4" filter="url(#b3)"/>
<path d="M170.6 422.6Q172.6 420.1 180.6 420.0Q205.8 419.6 231.0 420.7Q239.0 420.8 241.0 423.4Q239.0 425.9 231.0 425.8Q205.8 424.8 180.6 425.1Q172.6 425.2 170.6 422.6Z" fill="#000" opacity="1" filter="url(#b1)"/>
<path d="M254.9 423.1Q256.9 417.2 264.9 417.2Q291.7 417.4 318.5 417.6Q326.5 417.6 328.5 423.5Q326.5 429.4 318.5 429.4Q291.7 429.2 264.9 429.0Q256.9 429.0 254.9 423.1Z" fill="#777" opacity="0.4" filter="url(#b3)"/>
<path d="M256.9 422.8Q258.9 420.2 266.9 420.2Q291.7 420.4 316.5 420.5Q324.5 420.6 326.5 423.2Q324.5 425.8 316.5 425.8Q291.7 425.6 266.9 425.5Q258.9 425.4 256.9 422.8Z" fill="#000" opacity="1" filter="url(#b1)"/>
<path d="M341.7 423.3Q343.7 416.8 351.7 416.8Q378.9 417.3 406.0 416.8Q414.0 416.8 416.0 423.3Q414.0 429.8 406.0 429.8Q378.9 430.3 351.7 429.8Q343.7 429.8 341.7 423.3Z" fill="#777" opacity="0.4" filter="url(#b3)"/>
<path d="M343.7 423.0Q345.7 419.8 353.7 419.8Q378.9 420.2 404.0 419.8Q412.0 419.8 414.0 423.0Q412.0 426.2 404.0 426.3Q378.9 426.7 353.7 426.3Q345.7 426.2 343.7 423.0Z" fill="#000" opacity="1" filter="url(#b1)"/>
<path d="M427.0 423.3Q429.0 417.2 437.0 417.2Q461.8 417.2 486.5 417.2Q494.5 417.2 496.5 423.3Q494.5 429.4 486.5 429.4Q461.8 429.4 437.0 429.4Q429.0 429.4 427.0 423.3Z" fill="#777" opacity="0.4" filter="url(#b3)"/>
<path d="M429.0 423.0Q431.0 420.1 439.0 420.1Q461.8 420.1 484.5 420.1Q492.5 420.1 494.5 423.0Q492.5 425.9 484.5 425.9Q461.8 425.9 439.0 425.9Q431.0 425.9 429.0 423.0Z" fill="#000" opacity="1" filter="url(#b1)"/>
<path d="M514.7 424.0Q516.7 417.7 524.7 417.6Q553.1 416.5 581.5 416.4Q589.5 416.3 591.5 422.6Q589.5 428.9 581.5 429.0Q553.1 429.1 524.7 430.2Q516.7 430.3 514.7 424.0Z" fill="#777" opacity="0.4" filter="url(#b3)"/>
<path d="M516.7 423.7Q518.7 420.6 526.7 420.5Q553.1 419.5 579.5 419.3Q587.5 419.2 589.5 422.3Q587.5 425.4 579.5 425.4Q553.1 425.6 526.7 426.6Q518.7 426.8 516.7 423.7Z" fill="#000" opacity="1" filter="url(#b1)"/>
</g>
<rect x="156.4" y="395.8" width="447.8" height="53.2" rx="1" fill="none" stroke="#262626" stroke-width="2.4"/>
<text x="95.5" y="55.8" text-anchor="middle" fill="#1a1a1a" font-family='"Liberation Serif", "Times New Roman", serif' font-weight="bold" font-size="27" textLength="76.5" lengthAdjust="spacingAndGlyphs">p-JNK</text>
<text x="95.5" y="119.2" text-anchor="middle" fill="#1a1a1a" font-family='"Liberation Serif", "Times New Roman", serif' font-weight="bold" font-size="27" textLength="53.4" lengthAdjust="spacingAndGlyphs">JNK</text>
<text x="95.5" y="179.6" text-anchor="middle" fill="#1a1a1a" font-family='"Liberation Serif", "Times New Roman", serif' font-weight="bold" font-size="27" textLength="68.2" lengthAdjust="spacingAndGlyphs">P-P38</text>
<text x="95.5" y="242.2" text-anchor="middle" fill="#1a1a1a" font-family='"Liberation Serif", "Times New Roman", serif' font-weight="bold" font-size="27" textLength="42.4" lengthAdjust="spacingAndGlyphs">P38</text>
<text x="95.5" y="302.6" text-anchor="middle" fill="#1a1a1a" font-family='"Liberation Serif", "Times New Roman", serif' font-weight="bold" font-size="27" textLength="80.8" lengthAdjust="spacingAndGlyphs">p-ERK</text>
<text x="95.5" y="361.8" text-anchor="middle" fill="#1a1a1a" font-family='"Liberation Serif", "Times New Roman", serif' font-weight="bold" font-size="27" textLength="56.8" lengthAdjust="spacingAndGlyphs">ERK</text>
<text x="92.8" y="423.4" text-anchor="middle" fill="#1a1a1a" font-family='"Liberation Serif", "Times New Roman", serif' font-weight="bold" font-size="27" textLength="92.8" lengthAdjust="spacingAndGlyphs">GAPDH</text>
<text x="9" y="480.6" fill="#1a1a1a" font-family='"Liberation Serif", "Times New Roman", serif' font-weight="bold" font-size="26" textLength="74" lengthAdjust="spacingAndGlyphs">TNF-α</text>
<text x="91.2" y="480.6" fill="#1a1a1a" font-family='"Liberation Serif", "Times New Roman", serif' font-size="27">(</text>
<text x="100.4" y="481" fill="#1a1a1a" font-family='"Liberation Serif", "Times New Roman", serif' font-weight="bold" font-size="14.5" textLength="62.5" lengthAdjust="spacingAndGlyphs">10 ng/mL</text>
<text x="164.4" y="480.6" fill="#1a1a1a" font-family='"Liberation Serif", "Times New Roman", serif' font-size="27">)</text>
<text x="33" y="534.2" fill="#1a1a1a" font-family='"Liberation Serif", "Times New Roman", serif' font-weight="bold" font-size="26" textLength="57.2" lengthAdjust="spacingAndGlyphs">AKE</text>
<text x="191.7" y="480.8" font-family='"Liberation Sans", Arial, sans-serif' font-weight="bold" font-size="26" text-anchor="middle" fill="#222">-</text>
<text x="288.3" y="482.9" font-family='"Liberation Sans", Arial, sans-serif' font-weight="bold" font-size="26" text-anchor="middle" fill="#222">+</text>
<text x="385.7" y="482.9" font-family='"Liberation Sans", Arial, sans-serif' font-weight="bold" font-size="26" text-anchor="middle" fill="#222">+</text>
<text x="482.2" y="482.9" font-family='"Liberation Sans", Arial, sans-serif' font-weight="bold" font-size="26" text-anchor="middle" fill="#222">+</text>
<text x="579.3" y="482.9" font-family='"Liberation Sans", Arial, sans-serif' font-weight="bold" font-size="26" text-anchor="middle" fill="#222">+</text>
<text x="191.7" y="529.2" font-family='"Liberation Sans", Arial, sans-serif' font-weight="bold" font-size="26" text-anchor="middle" fill="#222">-</text>
<text x="288" y="529.2" font-family='"Liberation Sans", Arial, sans-serif' font-weight="bold" font-size="26" text-anchor="middle" fill="#222">-</text>
<text x="368.4" y="527" font-family='"Liberation Sans", Arial, sans-serif' font-weight="bold" font-size="21" fill="#222" lengthAdjust="spacing" textLength="32">0.1</text>
<text x="475.6" y="527" font-family='"Liberation Sans", Arial, sans-serif' font-weight="bold" font-size="21" fill="#222" lengthAdjust="spacing">1</text>
<text x="566.4" y="527" font-family='"Liberation Sans", Arial, sans-serif' font-weight="bold" font-size="21" fill="#222" lengthAdjust="spacing" textLength="25.6">10</text>
<text x="601.8" y="527" fill="#222" font-family='"Liberation Serif", "Times New Roman", serif' font-weight="bold" font-size="23" textLength="75.4" lengthAdjust="spacingAndGlyphs">µg/mL</text>
<text x="342.7" y="619.2" text-anchor="middle" font-family='"Liberation Serif", "Times New Roman", serif' font-size="40.5">(B)</text>
</g>
</g>
</svg>
</body>
</html>
